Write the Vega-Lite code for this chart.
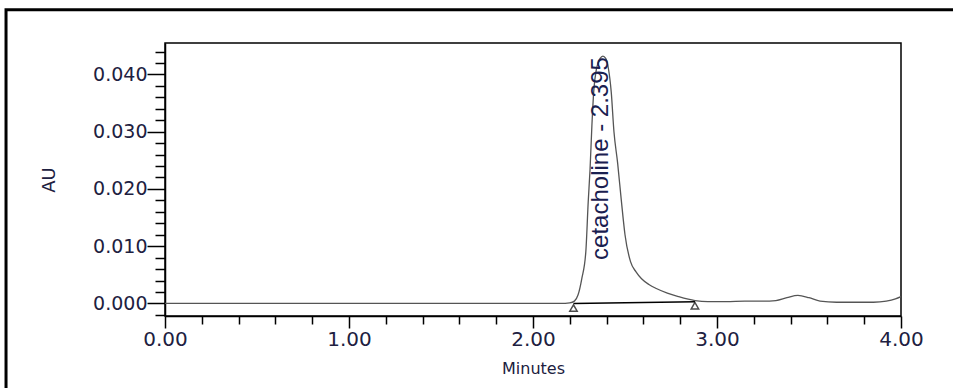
{
  "$schema": "https://vega.github.io/schema/vega-lite/v6.json",
  "width": 736,
  "height": 273,
  "autosize": {"type": "none"},
  "padding": {"left": 165, "top": 43, "right": 52, "bottom": 72},
  "background": "white",
  "config": {
    "view": {"stroke": "#000", "strokeWidth": 1.5},
    "axis": {
      "grid": false,
      "domainColor": "#000",
      "domainWidth": 1.5,
      "tickColor": "#000",
      "tickWidth": 1.5,
      "labelColor": "#202040",
      "titleColor": "#202040",
      "labelFont": "DejaVu Sans",
      "titleFont": "DejaVu Sans",
      "titleFontWeight": "normal"
    }
  },
  "datasets": {
    "signal": [
      {"t": 0.0, "au": 0.0}, {"t": 0.5, "au": 0.0}, {"t": 1.0, "au": 0.0}, {"t": 1.5, "au": 0.0},
      {"t": 2.0, "au": 0.0}, {"t": 2.15, "au": 0.0}, {"t": 2.2, "au": 0.0001}, {"t": 2.225, "au": 0.0004},
      {"t": 2.245, "au": 0.0015}, {"t": 2.265, "au": 0.0043}, {"t": 2.287, "au": 0.009}, {"t": 2.3, "au": 0.0177},
      {"t": 2.31, "au": 0.0234}, {"t": 2.32, "au": 0.031}, {"t": 2.33, "au": 0.037}, {"t": 2.345, "au": 0.041},
      {"t": 2.365, "au": 0.0428}, {"t": 2.38, "au": 0.0432}, {"t": 2.395, "au": 0.0428}, {"t": 2.41, "au": 0.041},
      {"t": 2.425, "au": 0.037}, {"t": 2.44, "au": 0.0300}, {"t": 2.46, "au": 0.0245}, {"t": 2.48, "au": 0.018},
      {"t": 2.5, "au": 0.012}, {"t": 2.53, "au": 0.0073}, {"t": 2.56, "au": 0.0055}, {"t": 2.59, "au": 0.0043},
      {"t": 2.63, "au": 0.0033}, {"t": 2.67, "au": 0.0026}, {"t": 2.73, "au": 0.0018}, {"t": 2.79, "au": 0.0012},
      {"t": 2.88, "au": 0.0005}, {"t": 2.95, "au": 0.0003}, {"t": 3.05, "au": 0.0003}, {"t": 3.15, "au": 0.0004},
      {"t": 3.25, "au": 0.0004}, {"t": 3.32, "au": 0.0005}, {"t": 3.38, "au": 0.001}, {"t": 3.44, "au": 0.0014},
      {"t": 3.5, "au": 0.001}, {"t": 3.56, "au": 0.0004}, {"t": 3.65, "au": 0.0002}, {"t": 3.75, "au": 0.0002},
      {"t": 3.85, "au": 0.0002}, {"t": 3.92, "au": 0.0004}, {"t": 3.97, "au": 0.0008}, {"t": 4.0, "au": 0.0012}
    ],
    "marks": [{"t": 2.22, "au": -0.0008}, {"t": 2.88, "au": -0.0004}],
    "baseline": [{"t": 2.22, "au": 0.0}, {"t": 2.88, "au": 0.0003}],
    "peak": [{"t": 2.37, "au": 0.0076, "label": "cetacholine - 2.395"}]
  },
  "layer": [
    {
      "data": {"values": [{}]},
      "mark": {"type": "rect", "fillOpacity": 0, "stroke": "#000", "strokeWidth": 3},
      "encoding": {
        "x": {"datum": -0.864, "type": "quantitative", "scale": {"domain": [0, 4], "nice": false, "zero": false}, "axis": null},
        "x2": {"datum": 5},
        "y": {"datum": 0.0513, "type": "quantitative", "scale": {"domain": [-0.0022, 0.0455], "nice": false, "zero": false}, "axis": null},
        "y2": {"datum": -0.0197}
      }
    },
    {
      "data": {"name": "signal"},
      "mark": {"type": "line", "color": "#555", "strokeWidth": 1.3, "interpolate": "monotone"},
      "encoding": {
        "x": {"field": "t", "type": "quantitative", "scale": {"domain": [0, 4], "nice": false, "zero": false},
          "axis": {"orient": "bottom", "values": [0, 1, 2, 3, 4], "format": ".2f", "labelFontSize": 20, "tickSize": 12, "labelPadding": 1, "labelFlush": false, "title": "Minutes", "titleFontSize": 16, "titlePadding": 11}},
        "y": {"field": "au", "type": "quantitative", "scale": {"domain": [-0.0022, 0.0455], "nice": false, "zero": false},
          "axis": {"orient": "left", "values": [0, 0.01, 0.02, 0.03, 0.04], "format": ".3f", "labelFontSize": 19, "tickSize": 18, "labelPadding": 0, "title": "AU", "titleFontSize": 18, "titlePadding": 34}}
      }
    },
    {
      "data": {"name": "baseline"},
      "mark": {"type": "line", "color": "#000", "strokeWidth": 1.5},
      "encoding": {
        "x": {"field": "t", "type": "quantitative",
          "axis": {"orient": "bottom", "values": [0.2, 0.4, 0.6, 0.8, 1.2, 1.4, 1.6, 1.8, 2.2, 2.4, 2.6, 2.8, 3.2, 3.4, 3.6, 3.8], "labels": false, "domain": false, "tickSize": 8, "title": null}},
        "y": {"field": "au", "type": "quantitative",
          "axis": {"orient": "left", "values": [-0.002, 0.002, 0.004, 0.006, 0.008, 0.012, 0.014, 0.016, 0.018, 0.022, 0.024, 0.026, 0.028, 0.032, 0.034, 0.036, 0.038, 0.042, 0.044], "labels": false, "domain": false, "tickSize": 10, "title": null}}
      }
    },
    {
      "data": {"name": "marks"},
      "mark": {"type": "point", "shape": "triangle-up", "filled": false, "stroke": "#000", "strokeWidth": 1.5, "size": 55},
      "encoding": {
        "x": {"field": "t", "type": "quantitative", "axis": null},
        "y": {"field": "au", "type": "quantitative", "axis": null}
      }
    },
    {
      "data": {"name": "peak"},
      "mark": {"type": "text", "angle": 270, "align": "left", "baseline": "middle", "font": "Liberation Sans", "fontSize": 24, "color": "#1a2050"},
      "encoding": {
        "x": {"field": "t", "type": "quantitative", "axis": null},
        "y": {"field": "au", "type": "quantitative", "axis": null},
        "text": {"field": "label"}
      }
    }
  ],
  "resolve": {"axis": {"x": "independent", "y": "independent"}}
}
